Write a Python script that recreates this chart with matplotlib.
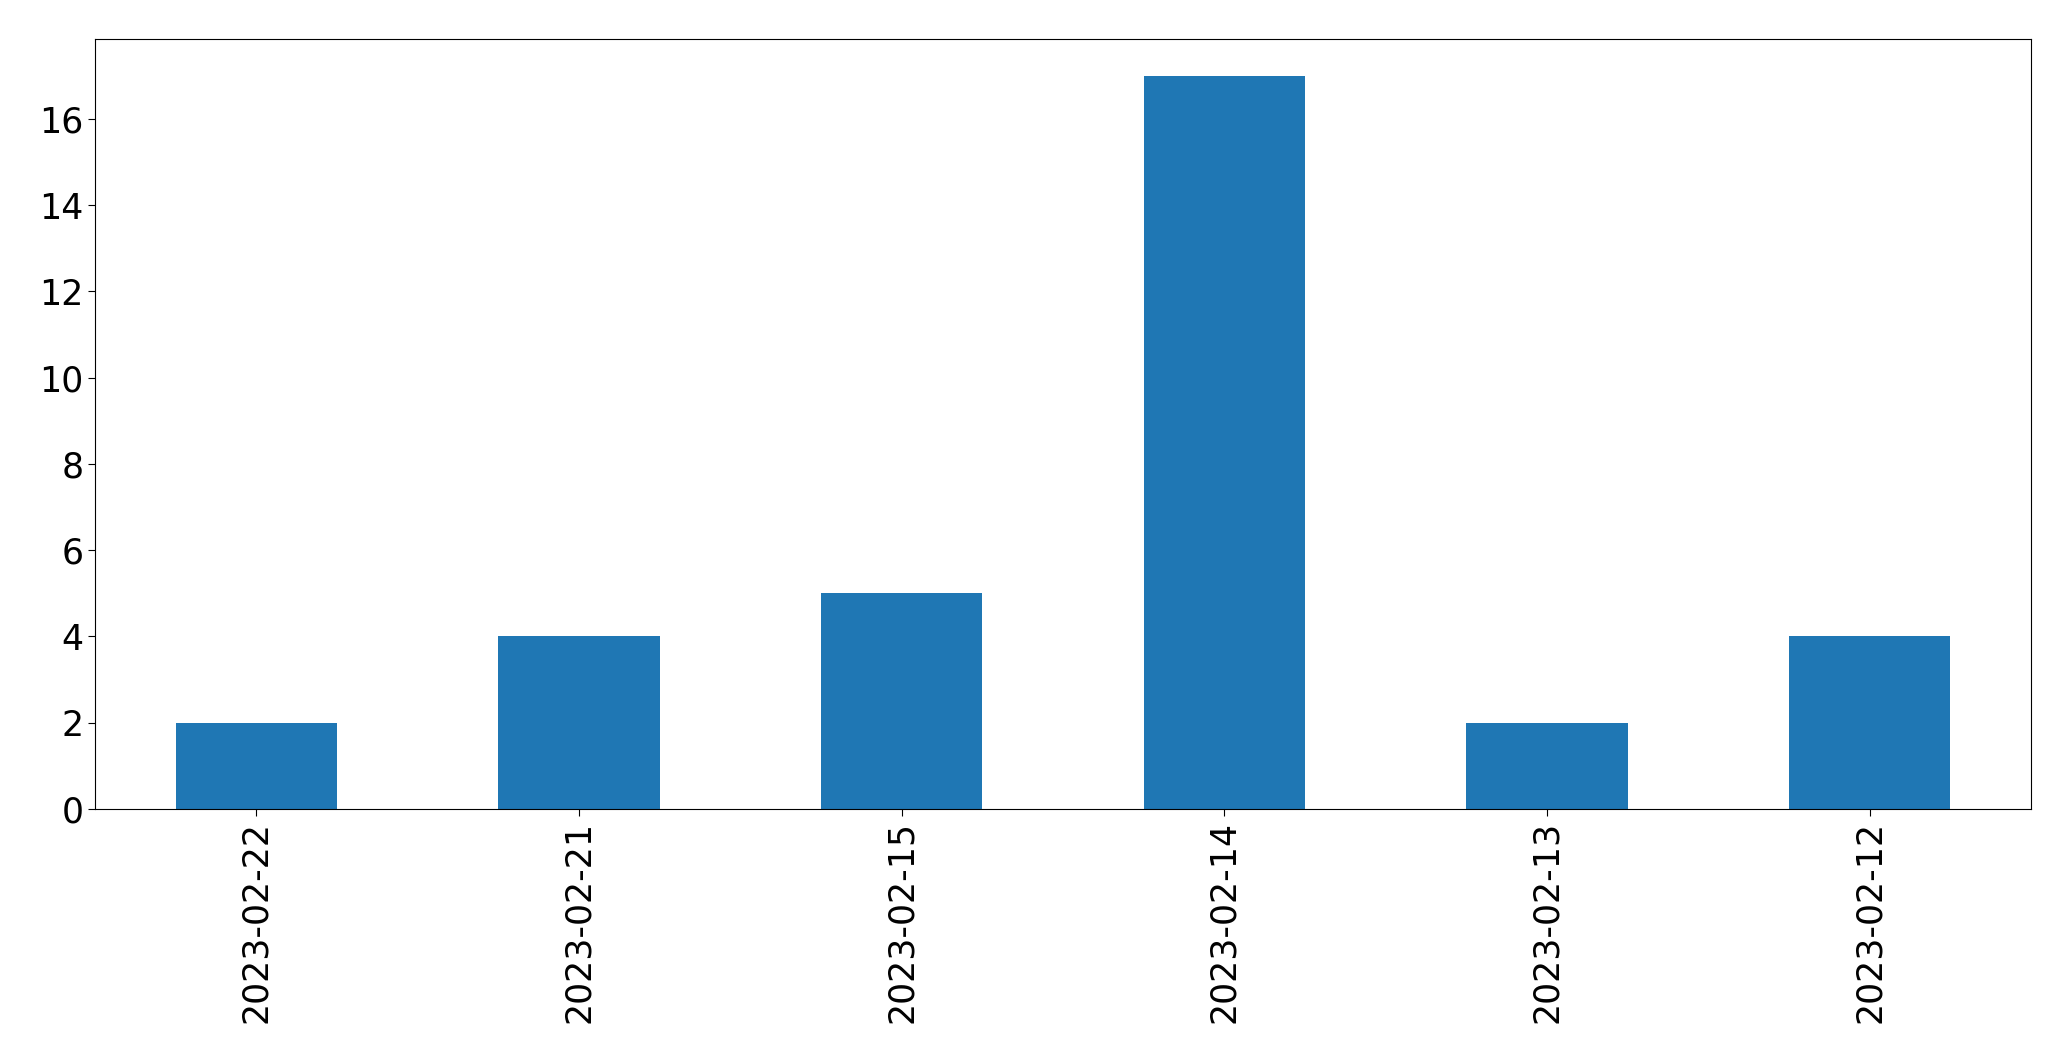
import pandas as pd
import matplotlib
matplotlib.use('Agg')
from matplotlib import pyplot as plt

dates = ['2023-02-22', '2023-02-21', '2023-02-15', '2023-02-14', '2023-02-13', '2023-02-12']
counts = [2, 4, 5, 17, 2, 4]

plt.rcParams['font.size'] = 25

s = pd.Series(counts, index=dates)
fig, ax = plt.subplots(figsize=(20.71, 10.61), dpi=100)
s.plot(kind='bar', ax=ax, color='#1f77b4')
ax.tick_params(axis='both', labelsize=25, length=5)
fig.subplots_adjust(left=0.0459, right=0.9807, top=0.9632, bottom=0.2375)
fig.savefig('out.png', dpi=100)
